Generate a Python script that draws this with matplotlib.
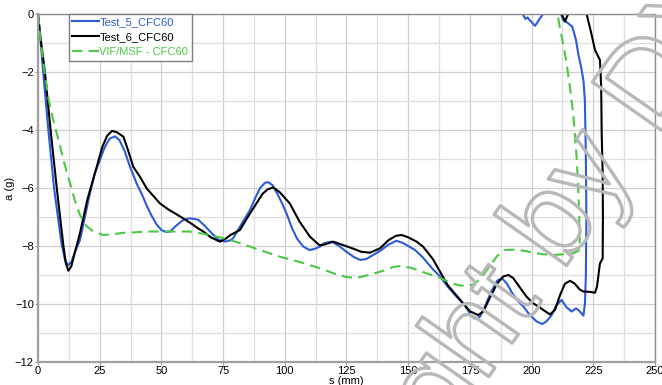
import matplotlib
matplotlib.use("Agg")
import matplotlib.pyplot as plt
import matplotlib.patheffects as pe
from matplotlib.ticker import MultipleLocator

plt.rcParams['font.family'] = ['Liberation Sans', 'DejaVu Sans']

# Test_5_CFC60
s5 = [0, 1, 2.1, 4.2, 6.5, 9.5, 11, 12.3, 13.5, 15, 17, 19, 21, 23, 25.1, 27, 29, 31.2,
      33, 35, 37.3, 40, 42, 44, 46, 48, 50, 52, 53.5, 56, 58.5, 61, 63, 65, 67.5, 70.4,
      73, 75.8, 78, 79.1, 81, 83.5, 85.9, 88, 90, 92, 93.3, 95, 97, 99, 100.8, 103, 105,
      107.5, 110, 112, 114.3, 116, 119, 122, 125, 128, 130.5, 133, 136, 139, 142, 145.3,
      148, 150, 152.8, 156, 160, 163, 166, 169.6, 173, 175.5, 177, 179, 181, 183.5, 186,
      188, 190, 192, 194.5, 196.7, 199, 202, 204.3, 206, 208, 210, 212.2, 214, 216.2,
      218, 218.9, 220, 221, 221.6, 222, 222.2, 222, 221.6, 221, 220, 219, 218, 216.5,
      214.5, 212.8, 211, 208, 205.8, 204.7, 203, 201.4, 200.2, 199.3, 198.4, 197.5, 196, 195]
a5 = [0, -0.9, -2, -4, -6, -7.9, -8.5, -8.66, -8.55, -8.2, -7.8, -7.0, -6.2, -5.5, -5.03,
      -4.6, -4.3, -4.22, -4.35, -4.7, -5.27, -5.85, -6.2, -6.6, -6.95, -7.25, -7.45, -7.52,
      -7.5, -7.3, -7.12, -7.05, -7.06, -7.1, -7.3, -7.56, -7.78, -7.85, -7.8, -7.73, -7.45,
      -7.1, -6.76, -6.35, -6.0, -5.82, -5.8, -5.9, -6.2, -6.55, -6.9, -7.4, -7.75, -8.02,
      -8.14, -8.1, -8.02, -7.9, -7.85, -8.0, -8.2, -8.38, -8.48, -8.45, -8.3, -8.15, -7.95,
      -7.82, -7.9, -8.0, -8.14, -8.4, -8.8, -9.06, -9.4, -9.75, -10.05, -10.4, -10.5,
      -10.45, -10.1, -9.6, -9.2, -9.11, -9.3, -9.6, -9.9, -10.09, -10.35, -10.6, -10.69,
      -10.6, -10.4, -10.05, -9.86, -10.1, -10.26, -10.15, -10.2, -10.3, -10.4, -10.0,
      -9.0, -7.0, -5.0, -3.0, -2.28, -1.8, -1.41, -0.9, -0.44, -0.3, -0.2, 0.2, 0.3, 0.15,
      0.0, -0.2, -0.41, -0.3, -0.22, -0.12, -0.17, 0.05, 0.3]

# Test_6_CFC60
s6 = [0, 1, 2.8, 5.1, 7.6, 10.3, 11.3, 12.3, 13.5, 15, 17, 20, 23.8, 26, 28, 30, 32, 34.6,
      36.5, 38.6, 41.3, 44, 47, 49.4, 53, 56, 58.9, 62, 65, 67, 70, 73.7, 76, 78, 81.8, 85,
      88, 91, 93, 95.3, 98, 102, 106, 110.2, 114, 116, 119.6, 123.7, 128, 131, 134.5,
      138.6, 142, 145, 147.3, 150, 153.4, 156, 160, 163, 166, 169, 172, 175, 178.4,
      180.5, 183, 186, 188.5, 190.6, 192.5, 195, 198, 200.7, 203, 205.5, 207.5, 209.5,
      211.5, 213.5, 215.6, 217.5, 219.5, 221, 223.5, 225.7, 226.5, 227.7, 228.8, 228.9,
      228.8, 228.4, 228.2, 227.7, 225.7, 224, 222.3, 220, 217, 215, 214.8, 213.5, 212.2, 211]
a6 = [0, -0.8, -2, -4, -6, -8, -8.6, -8.85, -8.7, -8.2, -7.56, -6.4, -5.27, -4.6, -4.2,
      -4.03, -4.08, -4.23, -4.7, -5.27, -5.61, -6.01, -6.3, -6.53, -6.75, -6.9, -7.05,
      -7.22, -7.4, -7.5, -7.7, -7.85, -7.75, -7.62, -7.45, -7.0, -6.6, -6.2, -6.05, -5.98,
      -6.15, -6.53, -7.16, -7.68, -7.97, -7.95, -7.85, -7.97, -8.1, -8.2, -8.23, -8.08,
      -7.8, -7.65, -7.62, -7.7, -7.85, -8.02, -8.45, -8.9, -9.35, -9.65, -9.95, -10.25,
      -10.38, -10.25, -9.8, -9.3, -9.05, -9.0, -9.1, -9.4, -9.75, -9.98, -10.1, -10.25,
      -10.36, -10.2, -9.7, -9.3, -9.2, -9.3, -9.5, -9.57, -9.58, -9.61, -9.4, -8.6, -8.43,
      -7.0, -5.5, -4.1, -2.5, -1.59, -1.24, -0.6, 0.0, 0.3, 0.3, 0.05, 0.0, -0.26, 0.0, 0.3]

# VIF/MSF - CFC60
sv = [0, 1, 2.5, 4.2, 6, 8.2, 10.5, 13, 15, 17, 19.5, 22.4, 26.5, 30, 34, 38.6, 45, 55,
      61.4, 67, 73.7, 80, 85.9, 92, 98, 106, 114.3, 120, 125, 129, 134, 140, 144, 147,
      151, 156, 163, 168, 171, 174, 177, 180, 183, 186, 189, 194, 199, 204, 209, 214,
      217, 219.2, 219.5, 219.3, 218.9, 218.3, 217.6, 216.8, 215.5, 214, 212.5, 211.3, 210.5]
av = [0, -0.9, -1.9, -2.9, -3.6, -4.3, -5.1, -5.84, -6.45, -6.93, -7.3, -7.5, -7.62, -7.6,
      -7.55, -7.53, -7.5, -7.5, -7.5, -7.58, -7.7, -7.85, -8.02, -8.2, -8.37, -8.55, -8.77,
      -8.95, -9.07, -9.1, -9.0, -8.85, -8.72, -8.69, -8.75, -8.9, -9.1, -9.3, -9.36, -9.38,
      -9.3, -9.05, -8.7, -8.35, -8.14, -8.12, -8.2, -8.28, -8.31, -8.28, -8.25, -8.15,
      -7.8, -7.0, -6.0, -5.0, -4.2, -3.4, -2.5, -1.6, -0.9, -0.4, 0]

fig = plt.figure(figsize=(6.62, 3.85), dpi=100)
ax = fig.add_axes([0.0574, 0.0597, 0.932, 0.904])

ax.plot(s5, a5, color='#2b5bd6', lw=1.5, label='Test_5_CFC60')
ax.plot(s6, a6, color='black', lw=1.5, label='Test_6_CFC60')
ax.plot(sv, av, color='#4cc845', lw=1.5, dashes=[5, 3], label='VIF/MSF - CFC60')

ax.set_xlim(0, 250)
ax.set_ylim(-12, 0)
ax.xaxis.set_major_locator(MultipleLocator(25))
ax.xaxis.set_minor_locator(MultipleLocator(12.5))
ax.yaxis.set_major_locator(MultipleLocator(2))
ax.yaxis.set_minor_locator(MultipleLocator(1))
ax.grid(which='major', color='#d0d0d0', lw=0.9)
ax.grid(which='minor', color='#dedede', lw=0.9)
ax.set_axisbelow(True)
ax.tick_params(which='both', length=2, color='#999999', labelsize=8, pad=1)
ax.tick_params(which='minor', length=0)
for side in ['left', 'bottom']:
    ax.spines[side].set_color('#a0a0a0')
    ax.spines[side].set_linewidth(1.6)
for side in ['top', 'right']:
    ax.spines[side].set_color('#8c8c8c')
    ax.spines[side].set_linewidth(1.0)

ax.set_xlabel('s (mm)', fontsize=8, labelpad=0)
ax.set_ylabel('a (g)', fontsize=8, labelpad=0)

leg = ax.legend(loc='upper left', bbox_to_anchor=(0.05, 1.0), borderaxespad=0,
                fontsize=8, fancybox=False, framealpha=1, edgecolor='#808080',
                handlelength=2.4, handletextpad=0.05, labelspacing=0.45,
                borderpad=0.3, labelcolor='linecolor')
leg.get_frame().set_linewidth(1.0)

# diagonal outlined watermark
wm = dict(rotation=55, rotation_mode='anchor', fontsize=88, color='none',
          va='baseline', zorder=10,
          path_effects=[pe.Stroke(linewidth=2.4, foreground='#b8b8b8')])
fig.text(562 / 662, 1 - 272 / 385, 'by DYNAmore', ha='left', **wm)
fig.text(562 / 662, 1 - 272 / 385, 'Copyright ', ha='right', **wm)

fig.savefig('out.png', dpi=100)
